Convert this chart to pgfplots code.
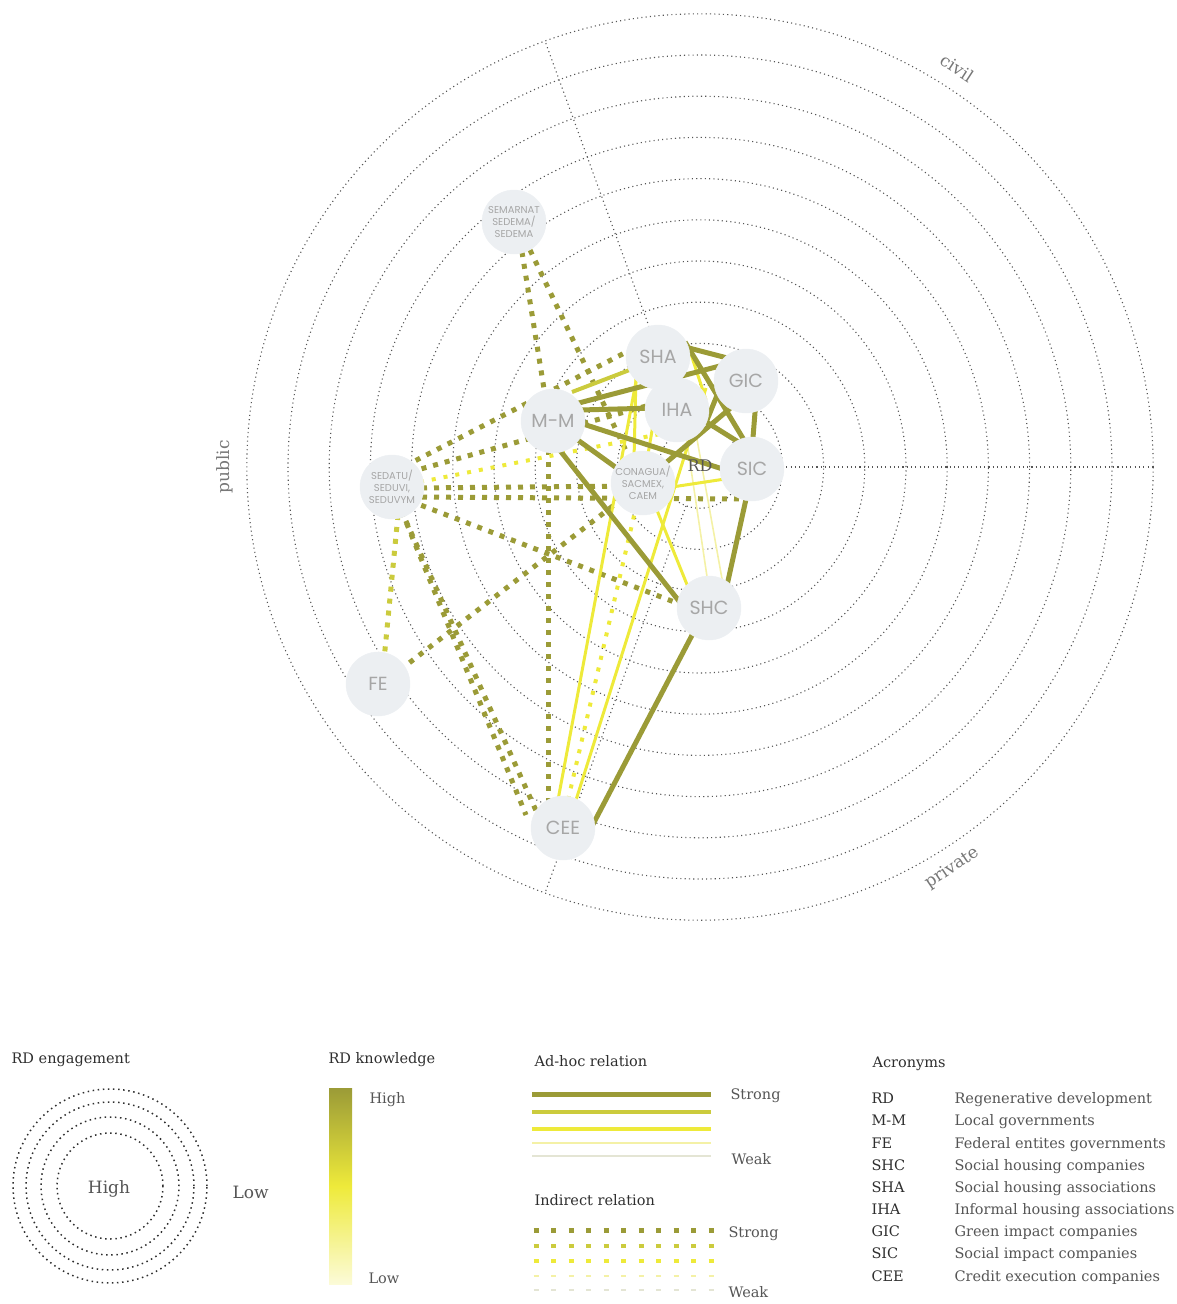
\documentclass[border=0pt]{standalone}
\usepackage{pgfplots}
\pgfplotsset{compat=1.18}
\usepackage{fontspec}
\setmainfont{DejaVu Serif}
\newfontfamily\nodefont{Poppins}

\definecolor{olv}{HTML}{9B9B37}
\definecolor{olvm}{HTML}{CBCB3D}
\definecolor{yel}{HTML}{EEEA3A}
\definecolor{paley}{HTML}{F4F1A6}
\definecolor{palest}{HTML}{E4E5D4}
\definecolor{nodefill}{HTML}{ECEFF2}
\definecolor{gridc}{HTML}{555555}
\definecolor{labc}{HTML}{A6A6A6}
\definecolor{sectc}{HTML}{777777}
\definecolor{tdark}{HTML}{2E2E2E}
\definecolor{tmid}{HTML}{555555}

\tikzset{
  adA/.style={olv, line width=5pt},
  adB/.style={olvm, line width=4pt},
  adC/.style={yel, line width=3pt},
  adD/.style={paley, line width=1.6pt},
  inA/.style={olv, line width=5pt, dash pattern=on 5pt off 7pt},
  inB/.style={olvm, line width=5pt, dash pattern=on 5pt off 7pt},
  inC/.style={yel, line width=4pt, dash pattern=on 4pt off 8pt},
  gridline/.style={gridc, line width=1.1pt, dash pattern=on 1.1pt off 3.2pt},
  legtitle/.style={anchor=base west, text=tdark, font=\fontsize{14.5}{17}\selectfont},
  legtext/.style={anchor=base west, text=tmid, font=\fontsize{14.5}{17}\selectfont},
}
\newcommand\edge[3]{\addplot[#1] coordinates {#2 #3};}

\begin{document}
\begin{tikzpicture}
\begin{axis}[
    name=ax,
    x=1pt, y=1pt,
    xmin=0, xmax=1176, ymin=0, ymax=1304,
    y dir=reverse,
    hide axis, clip=false,
]

% engagement rings
\pgfplotsinvokeforeach{41.2,82.4,123.6,164.8,206,247.2,288.4,329.6,370.8,412,453.2}{
  \draw[gridline] (axis cs:700,467) circle[radius=#1pt];
}
\addplot[gridline] coordinates {(782,467) (1153,467)};
\addplot[gridline] coordinates {(686,428) (545,41)};
\addplot[gridline] coordinates {(686,506) (545,893)};

% indirect relations
\edge{inA}{(522,252)}{(545,395)}
\edge{inA}{(530,250)}{(640,480)}
\edge{inA}{(405,466)}{(640,345)}
\edge{inA}{(410,472)}{(725,384)}
\edge{inA}{(410,488)}{(640,486)}
\edge{inA}{(410,497)}{(742,499)}
\edge{inA}{(410,501)}{(690,608)}
\edge{inA}{(401,510)}{(538,815)}
\edge{inA}{(402,512)}{(526,815)}
\edge{inA}{(548,450)}{(548,805)}
\edge{inA}{(400,670)}{(640,485)}
\edge{inB}{(398,515)}{(384,660)}
\edge{inC}{(420,482)}{(670,432)}
\edge{inC}{(568,800)}{(640,490)}

% ad-hoc relations
\edge{adD}{(676,368)}{(709,590)}
\edge{adD}{(690,400)}{(724,590)}
\edge{adC}{(640,360)}{(558,800)}
\edge{adC}{(706,388)}{(576,800)}
\edge{adC}{(648,488)}{(690,592)}
\edge{adC}{(636,375)}{(634,460)}
\edge{adC}{(653,425)}{(647,460)}
\edge{adC}{(672,487)}{(725,479)}
\edge{adC}{(688,345)}{(706,400)}
\edge{adB}{(572,392)}{(640,366)}
\edge{adA}{(685,347)}{(735,360)}
\edge{adA}{(685,342)}{(750,450)}
\edge{adA}{(575,404)}{(735,362)}
\edge{adA}{(580,410)}{(655,408)}
\edge{adA}{(580,423)}{(735,473)}
\edge{adA}{(558,448)}{(690,615)}
\edge{adA}{(575,438)}{(625,474)}
\edge{adA}{(655,472)}{(740,400)}
\edge{adA}{(756,400)}{(752,450)}
\edge{adA}{(748,490)}{(726,590)}
\edge{adA}{(700,620)}{(590,830)}
\edge{adA}{(700,418)}{(748,448)}
\edge{adA}{(720,388)}{(705,425)}

% actors
\addplot[only marks, mark=*, mark size=32pt, mark options={draw=nodefill, fill=nodefill},
  nodes near coords, point meta=explicit symbolic, nodes near coords align=center,
  every node near coord/.style={text=labc, font=\nodefont\fontsize{19}{19}\selectfont}]
  coordinates {
  (658,357) [SHA] (746,381) [GIC] (677,410) [IHA] (553,421) [M-M] (752,469) [SIC]
  (709,608) [SHC] (378,684) [FE] (563,828) [CEE]
};
\addplot[only marks, mark=*, mark size=32pt, mark options={draw=nodefill, fill=nodefill},
  nodes near coords, point meta=explicit symbolic, nodes near coords align=center,
  every node near coord/.style={text=labc, align=center, font=\nodefont\fontsize{10}{12}\selectfont}]
  coordinates {
  (514,222) [{SEMARNAT\\SEDEMA/\\SEDEMA}]
  (643,483) [{CONAGUA/\\SACMEX,\\CAEM}]
  (392,487) [{SEDATU/\\SEDUVI,\\SEDUVYM}]
};
\node[text=tmid, font=\fontsize{16}{16}\selectfont] at (axis cs:700,466) {RD};

\node[text=sectc, rotate=-33, font=\fontsize{17}{17}\selectfont] at (axis cs:957,68) {civil};
\node[text=sectc, rotate=90, font=\fontsize{17}{17}\selectfont] at (axis cs:225,467) {public};
\node[text=sectc, rotate=34, font=\fontsize{17}{17}\selectfont] at (axis cs:952,868) {private};

% legend: engagement
\node[legtitle] at (axis cs:8,1063) {RD engagement};
\pgfplotsinvokeforeach{53,69,84,97}{
  \draw[tdark, line width=1.5pt, dash pattern=on 1.5pt off 3.6pt] (axis cs:110,1186) circle[radius=#1pt];
}
\node[anchor=base, text=tmid, font=\fontsize{17}{17}\selectfont] at (axis cs:109,1193) {High};
\node[anchor=base west, text=tmid, font=\fontsize{17}{17}\selectfont] at (axis cs:229,1198) {Low};

% legend: knowledge
\node[legtitle] at (axis cs:325,1063) {RD knowledge};
\path[top color=olv, bottom color=yel!20!white, middle color=yel] (axis cs:329,1088) rectangle (axis cs:352,1284);
\node[legtext] at (axis cs:366,1103) {High};
\node[legtext] at (axis cs:365,1283) {Low};

% legend: ad-hoc
\node[legtitle] at (axis cs:531,1066) {Ad-hoc relation};
\addplot[olv, line width=5pt] coordinates {(532,1094) (711,1094)};
\addplot[olvm, line width=4pt] coordinates {(532,1112) (711,1112)};
\addplot[yel, line width=3.3pt] coordinates {(532,1129) (711,1129)};
\addplot[paley, line width=2pt] coordinates {(532,1143) (711,1143)};
\addplot[palest, line width=1.3pt] coordinates {(532,1156) (711,1156)};
\node[legtext] at (axis cs:727,1099) {Strong};
\node[legtext] at (axis cs:728,1164) {Weak};

% legend: indirect
\node[legtitle] at (axis cs:531,1205) {Indirect relation};
\addplot[olv, line width=5pt, dash pattern=on 5pt off 12.5pt] coordinates {(533.5,1230) (713.5,1230)};
\addplot[olvm, line width=4.5pt, dash pattern=on 5pt off 12.5pt] coordinates {(533.5,1246) (713.5,1246)};
\addplot[yel, line width=4pt, dash pattern=on 5pt off 12.5pt] coordinates {(533.5,1261) (713.5,1261)};
\addplot[paley, line width=2pt, dash pattern=on 5pt off 12.5pt] coordinates {(533.5,1276) (713.5,1276)};
\addplot[palest, line width=1.2pt, dash pattern=on 5pt off 12.5pt] coordinates {(533.5,1290) (713.5,1290)};
\node[legtext] at (axis cs:725,1237) {Strong};
\node[legtext] at (axis cs:725,1297) {Weak};

% legend: acronyms
\node[legtitle] at (axis cs:869,1067) {Acronyms};
\node[legtitle] at (axis cs:868,1103) {RD};
\node[legtitle] at (axis cs:868,1125) {M-M};
\node[legtitle] at (axis cs:868,1148) {FE};
\node[legtitle] at (axis cs:868,1170) {SHC};
\node[legtitle] at (axis cs:868,1192) {SHA};
\node[legtitle] at (axis cs:868,1214) {IHA};
\node[legtitle] at (axis cs:868,1236) {GIC};
\node[legtitle] at (axis cs:868,1258) {SIC};
\node[legtitle] at (axis cs:868,1281) {CEE};
\node[legtext] at (axis cs:951,1103) {Regenerative development};
\node[legtext] at (axis cs:951,1125) {Local governments};
\node[legtext] at (axis cs:951,1148) {Federal entites governments};
\node[legtext] at (axis cs:951,1170) {Social housing companies};
\node[legtext] at (axis cs:951,1192) {Social housing associations};
\node[legtext] at (axis cs:951,1214) {Informal housing associations};
\node[legtext] at (axis cs:951,1236) {Green impact companies};
\node[legtext] at (axis cs:951,1258) {Social impact companies};
\node[legtext] at (axis cs:951,1281) {Credit execution companies};

\end{axis}
\pgfresetboundingbox
\path[use as bounding box] (ax.south west) rectangle (ax.north east);
\end{tikzpicture}
\end{document}
